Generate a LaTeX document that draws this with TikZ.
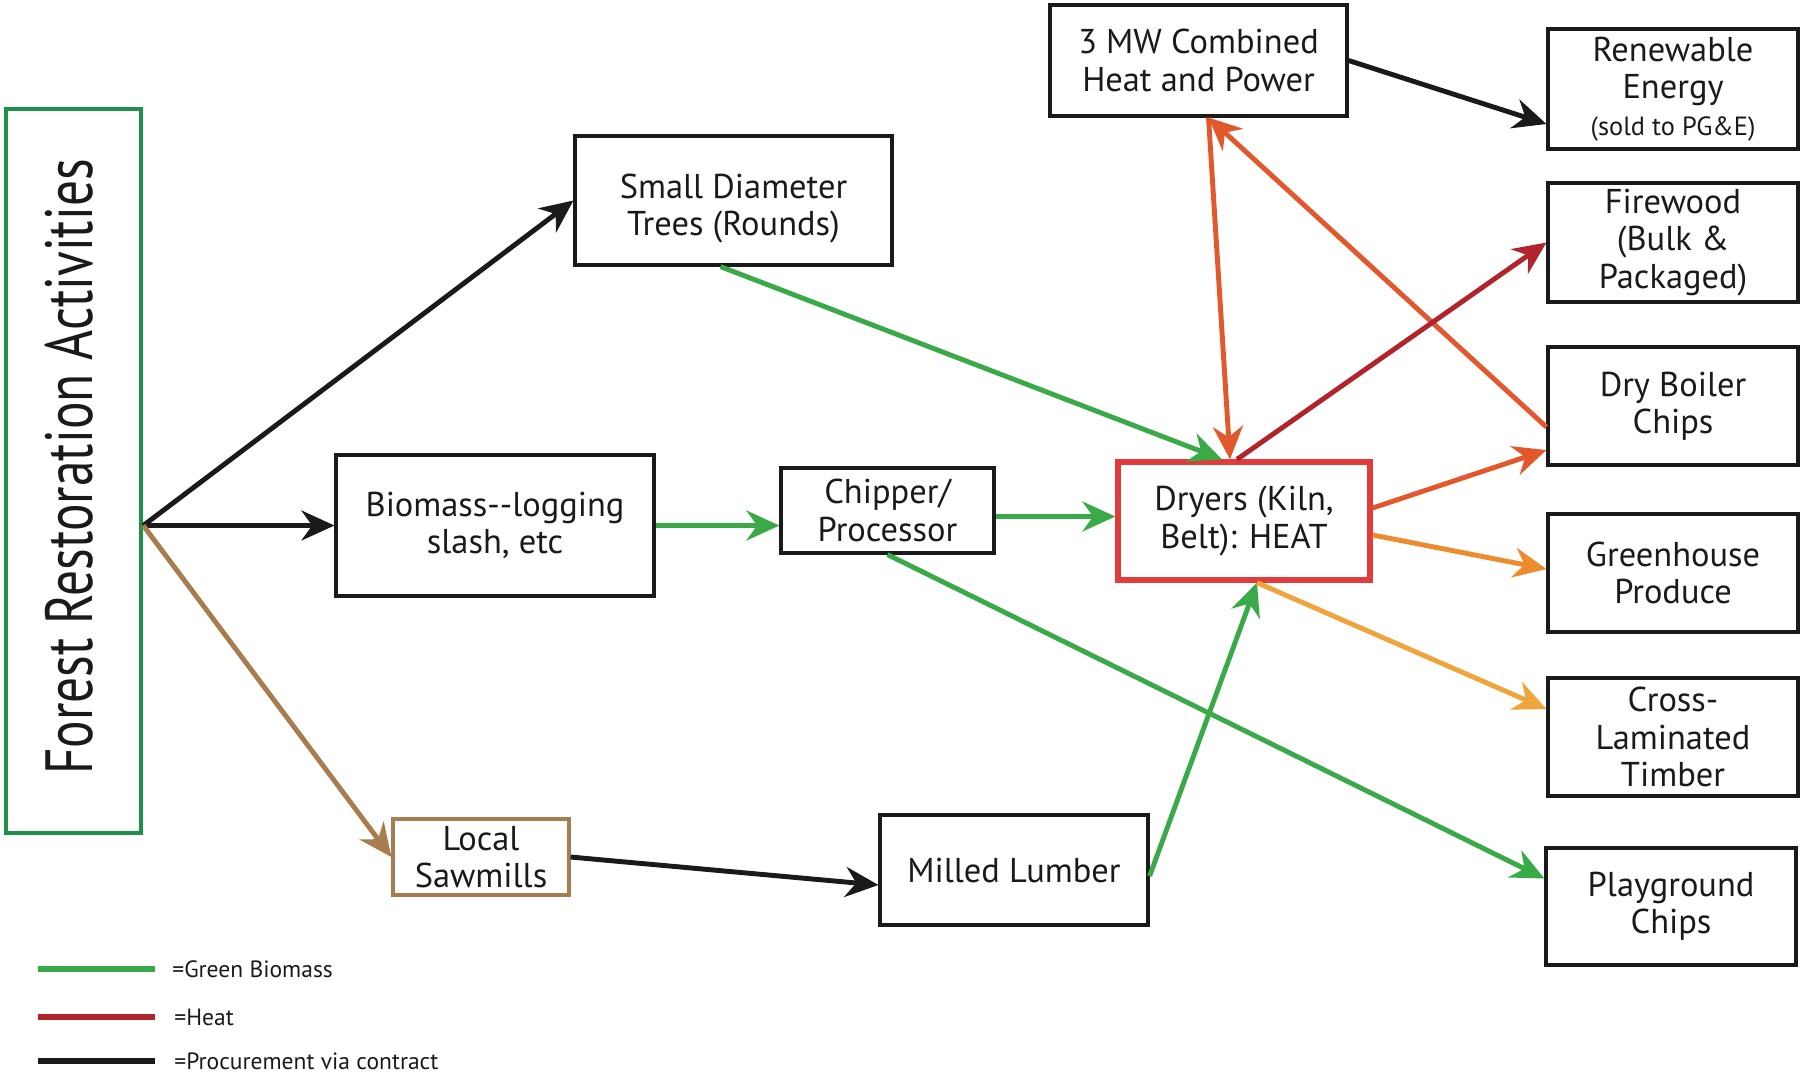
\documentclass[tikz,border=0pt]{standalone}
\usepackage{fontspec}
\setmainfont{PT Sans}
\usetikzlibrary{arrows.meta,calc,positioning}
\definecolor{Ink}{HTML}{1A1A1A}
\definecolor{Leaf}{HTML}{3AAA48}
\definecolor{Pine}{HTML}{1E9148}
\definecolor{Ember}{HTML}{B1242B}
\definecolor{Flame}{HTML}{E2572B}
\definecolor{Amber}{HTML}{EE8B2C}
\definecolor{Honey}{HTML}{F0A53C}
\definecolor{Kiln}{HTML}{E23B3B}
\definecolor{Bark}{HTML}{A77C4E}

\begin{document}
\begin{tikzpicture}[every node/.style={font=\fontsize{9.8}{10.6}\selectfont, text=Ink},
  box/.style={draw=Ink, line width=0.9pt, align=center, inner sep=1pt},
  outbox/.style={box, minimum width=2.5cm, minimum height=1.18cm},
  flow/.style={-{Stealth[length=3.3mm,width=3mm]}, line width=1.4pt},
  key/.style={line width=1.6pt}]
  \useasboundingbox (0,0) rectangle (18.02,-10.79);
  \node[box, draw=Pine, line width=1.3pt, minimum width=1.35cm, minimum height=7.24cm] (forest) at (0.735,-4.71) {};
  \node[rotate=90, font=\fontsize{19}{19}\selectfont] (title) at (0.69,-4.67) {\scalebox{0.77}[1]{Forest Restoration Activities}};
  \node[box, minimum width=3.17cm, minimum height=1.29cm] (trees) at (7.335,-2.005) {\rule{0pt}{4mm}Small Diameter\\Trees (Rounds)};
  \node[box, minimum width=3.18cm, minimum height=1.41cm] (slash) at (4.95,-5.255) {Biomass-{}-logging\\slash, etc};
  \node[box, minimum width=2.13cm, minimum height=0.85cm] (chipper) at (8.875,-5.105) {Chipper/\\Processor};
  \node[box, draw=Kiln, line width=1.5pt, minimum width=2.52cm, minimum height=1.18cm] (dryers) at (12.44,-5.21) {Dryers (Kiln,\\Belt): HEAT};
  \node[box, minimum width=2.97cm, minimum height=1.11cm] (chp) at (11.985,-0.605) {3 MW Combined\\Heat and Power};
  \node[box, draw=Bark, minimum width=1.76cm, minimum height=0.76cm] (sawmills) at (4.81,-8.57) {Local\\Sawmills};
  \node[box, minimum width=2.68cm, minimum height=1.1cm] (lumber) at (10.14,-8.7) {Milled Lumber};
  \node[outbox, minimum height=1.2cm] (energy) at (16.73,-0.89) {Renewable\\Energy\\{\fontsize{7.5}{9}\selectfont (sold to PG\&E)}};
  \node[outbox, minimum height=1.19cm] (firewood) at (16.73,-2.425) {Firewood\\(Bulk \&\\Packaged)};
  \node[outbox] (boiler) at (16.73,-4.06) {Dry Boiler\\Chips};
  \node[outbox] (greenhouse) at (16.73,-5.73) {Greenhouse\\Produce};
  \node[outbox] (clt) at (16.73,-7.37) {Cross-\\Laminated\\Timber};
  \node[outbox, minimum height=1.17cm] (playground) at (16.71,-9.065) {Playground\\Chips};

  \coordinate (fork) at (forest.east |- slash.west);
  \draw[flow, Ink] (fork) -- (trees.west);
  \draw[flow, Ink] (fork) -- (slash.west);
  \draw[flow, Bark] (fork) -- (sawmills.west);
  \draw[flow, Leaf] ([xshift=-1.3mm]trees.south) -- ([xshift=-2.2mm]dryers.north);
  \draw[flow, Leaf] (slash.east) -- (slash.east -| chipper.west);
  \draw[flow, Leaf] ([yshift=-0.6mm]chipper.east) -- ([yshift=-0.6mm]chipper.east -| dryers.west);
  \draw[flow, Leaf] (chipper.south) -- ([yshift=2.8mm]playground.west);
  \draw[flow, Ink] (sawmills.east) -- ([yshift=-1.5mm]lumber.west);
  \draw[flow, Leaf] ([yshift=-0.6mm]lumber.east) -- ([xshift=1.3mm]dryers.south);
  \draw[flow, Flame] ([xshift=1mm]chp.south) -- ([xshift=-1.4mm]dryers.north);
  \draw[flow, Flame] ([yshift=-2.1mm]boiler.west) -- ([xshift=1mm]chp.south);
  \draw[flow, Ember] ([xshift=-0.7mm]dryers.north) -- (firewood.west);
  \draw[flow, Flame] ([yshift=1.3mm]dryers.east) -- ([yshift=-4.4mm]boiler.west);
  \draw[flow, Amber] ([yshift=-1.4mm]dryers.east) -- ([yshift=0.4mm]greenhouse.west);
  \draw[flow, Honey] ([xshift=1.3mm]dryers.south) -- ([yshift=2.8mm]clt.west);
  \draw[flow, Ink] (chp.east) -- ([yshift=-3.5mm]energy.west);

  \node[anchor=west, font=\fontsize{6.7}{8}\selectfont] (keyGreen) at (1.60,-9.69) {=Green Biomass};
  \node[anchor=west, font=\fontsize{6.7}{8}\selectfont] (keyHeat) at (1.62,-10.17) {=Heat};
  \node[anchor=west, font=\fontsize{6.7}{8}\selectfont] (keyDeal) at (1.62,-10.61) {=Procurement via contract};
  \draw[key, Leaf] ([xshift=-1.22cm]keyGreen.west) -- ++(1.17,0);
  \draw[key, Ember] ([xshift=-1.24cm]keyHeat.west) -- ++(1.17,0);
  \draw[key, Ink] ([xshift=-1.24cm]keyDeal.west) -- ++(1.17,0);
\end{tikzpicture}
\end{document}
